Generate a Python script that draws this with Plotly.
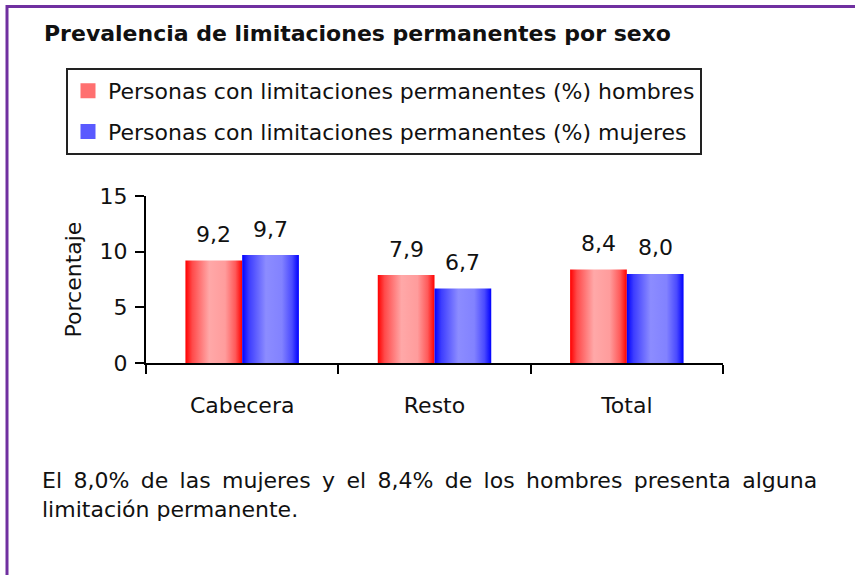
import plotly.graph_objects as go

# ---- data ----
categories = ["Cabecera", "Resto", "Total"]
hombres = [9.2, 7.9, 8.4]
mujeres = [9.7, 6.7, 8.0]
series_names = ["Personas con limitaciones permanentes (%) hombres",
                "Personas con limitaciones permanentes (%) mujeres"]
y_ticks = [0, 5, 10, 15]

# ---- layout geometry (pixels; page body margin removed in post_script) ----
W, H = 855, 575
PL, PR, PT, PB = 146, 723, 196, 363          # plot area in reference pixels
ML, MR, MT, MB = PL, W - PR, PT, H - PB
PW, PH = PR - PL, PB - PT

def px(x):
    return (x - PL) / PW

def py(y):
    return (PB - y) / PH

FONT = "DejaVu Sans"
TXT = "#111111"
bar_w = 0.295

red_scale = [[0, "#ff0000"], [0.12, "#ff4a4a"], [0.42, "#ffa8a8"], [0.7, "#ff9c9c"], [0.88, "#ff5a5a"], [1, "#ff0000"]]
blue_scale = [[0, "#0000ff"], [0.12, "#3d3dff"], [0.42, "#8c8cff"], [0.7, "#8282ff"], [0.88, "#4a4aff"], [1, "#0000ff"]]

fig = go.Figure()

def add_bars(values, side, scale, name, color):
    for i, v in enumerate(values):
        c = i + 1
        x0 = c - bar_w if side < 0 else c
        x1 = x0 + bar_w
        fig.add_trace(go.Scatter(
            x=[x0, x0, x1, x1, x0], y=[0, v, v, 0, 0],
            mode="lines", fill="toself", line=dict(width=0, color=color),
            fillgradient=dict(type="horizontal", colorscale=scale),
            showlegend=False, hoverinfo="skip"))
        fig.add_annotation(x=(x0 + x1) / 2, y=v, xref="x", yref="y",
                           text=f"{v:.1f}".replace(".", ","), showarrow=False,
                           yanchor="middle", yshift=26,
                           font=dict(family=FONT, size=22, color=TXT))
    # legend entry
    fig.add_trace(go.Bar(x=[None], y=[None], name=name, legendgroup=name,
                         marker=dict(color=color, line=dict(color=color, width=3))))

add_bars(hombres, -1, red_scale, series_names[0], "#ff7070")
add_bars(mujeres, 1, blue_scale, series_names[1], "#5a5aff")

# frame lines
fig.add_shape(type="line", xref="paper", yref="paper", x0=px(6), x1=px(860), y0=py(6.5), y1=py(6.5),
              line=dict(color="#7030a0", width=3))
fig.add_shape(type="line", xref="paper", yref="paper", x0=px(7), x1=px(7), y0=py(5), y1=py(580),
              line=dict(color="#7030a0", width=3))

# bottom text (justified first line via thin spaces)
line1 = "El 8,0% de las mujeres y el 8,4% de los hombres presenta alguna".replace(" ", " \u2009")
line2 = "limitación permanente."
fig.add_annotation(xref="paper", yref="paper", x=px(40), y=py(466), xanchor="left", yanchor="top",
                   align="left", showarrow=False,
                   text=line1 + "<br>" + line2,
                   font=dict(family=FONT, size=22, color=TXT))

fig.update_layout(
    width=W, height=H,
    margin=dict(l=ML, r=MR, t=MT, b=MB, autoexpand=False),
    paper_bgcolor="white", plot_bgcolor="white",
    font=dict(family=FONT, size=22, color=TXT),
    title=dict(text="<b>Prevalencia de limitaciones permanentes por sexo</b>",
               x=44 / W, xanchor="left", xref="container",
               y=1 - 33 / H, yanchor="middle", yref="container",
               font=dict(family=FONT, size=22, color=TXT)),
    showlegend=True,
    legend=dict(x=px(66), y=py(68), xanchor="left", yanchor="top",
                bordercolor="#222222", borderwidth=2, bgcolor="white",
                font=dict(family=FONT, size=22, color=TXT),
                traceorder="grouped", tracegroupgap=9),
    xaxis=dict(range=[0.5, 3.5], tickvals=[1, 2, 3], ticktext=categories,
               ticks="", showline=True, linecolor="black", linewidth=2,
               showgrid=False, zeroline=False, ticklabelstandoff=22,
               minor=dict(tick0=0.5, dtick=1, ticks="outside", ticklen=9,
                          tickcolor="black", tickwidth=2, showgrid=False),
               fixedrange=True),
    yaxis=dict(range=[0, 15], tickvals=y_ticks, ticks="outside", ticklen=9,
               tickcolor="black", tickwidth=2, showline=True, linecolor="black",
               linewidth=2, showgrid=False, zeroline=False, ticklabelstandoff=3,
               title=dict(text="Porcentaje", standoff=12,
                          font=dict(family=FONT, size=22, color=TXT)),
               fixedrange=True),
)

fig.write_html("out.html", config={"displayModeBar": False},
               post_script="document.body.style.margin='0';document.body.style.overflow='hidden';")
